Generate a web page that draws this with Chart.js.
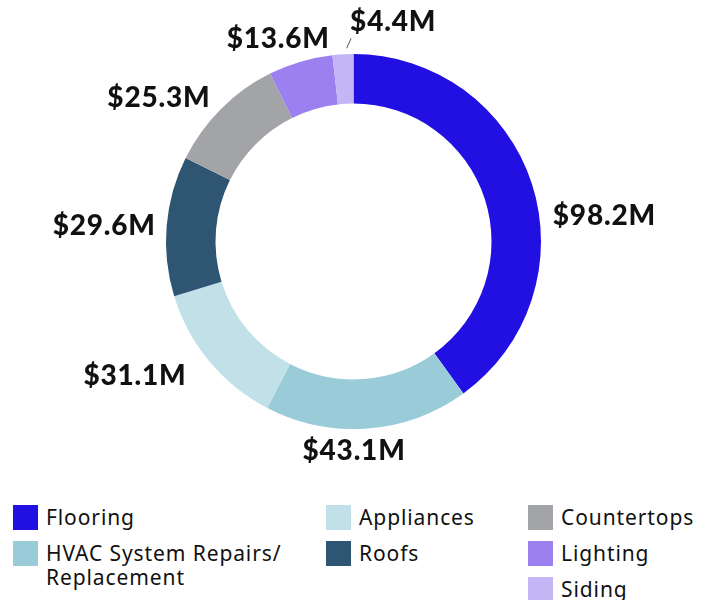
<!DOCTYPE html>
<html>
<head>
<meta charset="utf-8">
<title>Spend by category</title>
<script src="https://cdn.jsdelivr.net/npm/chart.js@4.4.0/dist/chart.umd.min.js"></script>
<style>
  html, body { margin: 0; padding: 0; background: #fff; }
  #wrap { position: relative; width: 709px; height: 600px; overflow: hidden; }
  #chartBox { position: absolute; left: 0; top: 0; width: 709px; height: 495px; }
  .legend-col { position: absolute; top: 505px; }
  .legend-item { display: flex; align-items: flex-start; min-height: 36px; }
  .swatch { width: 25px; height: 25px; flex: none; margin-right: 8px; }
  .legend-text {
    font-family: "Noto Sans", sans-serif;
    font-size: 21px;
    line-height: 24px;
    letter-spacing: 0.9px;
    color: #111;
    white-space: nowrap;
  }
</style>
</head>
<body>
<div id="wrap">
  <div id="chartBox"><canvas id="spendChart"></canvas></div>
  <div id="legend"></div>
</div>
<script>
// Data ($ millions), clockwise from 12 o'clock
const categories = ['Flooring', ['HVAC System Repairs/', 'Replacement'], 'Appliances', 'Roofs', 'Countertops', 'Lighting', 'Siding'];
const spend = [98.2, 43.1, 31.1, 29.6, 25.3, 13.6, 4.4];
const valueLabels = ['$98.2M', '$43.1M', '$31.1M', '$29.6M', '$25.3M', '$13.6M', '$4.4M'];
const sliceColors = ['#2210E2', '#99CBD8', '#C2E0E7', '#2E5673', '#A3A4A8', '#9D80EF', '#C4B5F4'];

// how many legend entries go in each column
const legendColumns = [2, 2, 3];
const legendColumnX = [13, 326, 528];

// small hand adjustments so the value labels sit where they do in the original
const labelShift = [[0, 39], [-15, 1], [-6, 0], [11, 2], [5, 5], [-16, -2], [4, 0]];
const useLeader = [false, false, false, false, false, false, true];

/**
 * Draws the bold dollar labels around the ring
 */
const outerLabels = {
  id: 'outerLabels',
  afterDatasetsDraw(chart) {
    const ctx = chart.ctx;
    const arcs = chart.getDatasetMeta(0).data;
    ctx.save();
    ctx.font = '900 28px Lato';
    ctx.letterSpacing = '0.8px';
    ctx.fillStyle = '#111';
    ctx.textBaseline = 'middle';

    arcs.forEach((arc, i) => {
      const p = arc.getProps(['x', 'y', 'startAngle', 'endAngle', 'outerRadius'], true);
      const mid = (p.startAngle + p.endAngle) / 2;
      const cos = Math.cos(mid);
      const sin = Math.sin(mid);

      if (useLeader[i]) {
        // tiny slice: short tick, label above it
        const sx = p.x + cos * (p.outerRadius + 6) + labelShift[i][0];
        const sy = p.y + sin * (p.outerRadius + 6) + labelShift[i][1];
        const ex = sx + 4.5;
        const ey = sy - 10;
        ctx.strokeStyle = '#555';
        ctx.lineWidth = 1;
        ctx.beginPath();
        ctx.moveTo(sx, sy);
        ctx.lineTo(ex, ey);
        ctx.stroke();
        ctx.textAlign = 'left';
        ctx.fillText(valueLabels[i], ex - 1, ey - 16);
        return;
      }

      const r = p.outerRadius + 22;
      const x = p.x + cos * r + labelShift[i][0];
      const y = p.y + sin * r + labelShift[i][1];
      if (cos > 0.3) ctx.textAlign = 'left';
      else if (cos < -0.3) ctx.textAlign = 'right';
      else ctx.textAlign = 'center';
      ctx.fillText(valueLabels[i], x, y);
    });
    ctx.restore();
  }
};

const ctx = document.getElementById('spendChart').getContext('2d');
new Chart(ctx, {
  type: 'doughnut',
  data: {
    labels: categories,
    datasets: [{
      data: spend,
      backgroundColor: sliceColors,
      borderWidth: 0
    }]
  },
  options: {
    responsive: true,
    maintainAspectRatio: false,
    animation: false,
    cutout: '73.6%',
    layout: {
      padding: { top: 54, bottom: 66, left: 166, right: 168 }
    },
    plugins: {
      legend: { display: false },
      tooltip: { enabled: false }
    }
  },
  plugins: [outerLabels]
});

// Build the three-column legend underneath
function buildLegend() {
  const holder = document.getElementById('legend');
  let idx = 0;
  legendColumns.forEach((count, c) => {
    const col = document.createElement('div');
    col.className = 'legend-col';
    col.style.left = legendColumnX[c] + 'px';
    for (let k = 0; k < count; k++, idx++) {
      const item = document.createElement('div');
      item.className = 'legend-item';
      const sw = document.createElement('div');
      sw.className = 'swatch';
      sw.style.background = sliceColors[idx];
      const txt = document.createElement('div');
      txt.className = 'legend-text';
      const name = categories[idx];
      txt.innerHTML = Array.isArray(name) ? name.join('<br>') : name;
      item.appendChild(sw);
      item.appendChild(txt);
      col.appendChild(item);
    }
    holder.appendChild(col);
  });
}
buildLegend();
</script>
</body>
</html>
